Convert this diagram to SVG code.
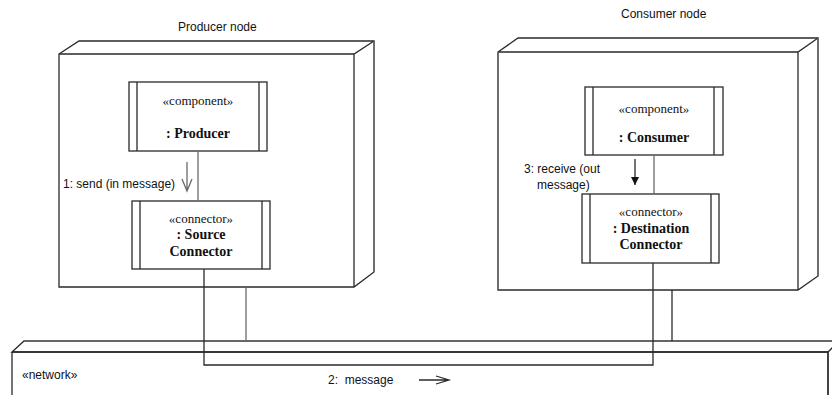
<svg xmlns="http://www.w3.org/2000/svg" width="832" height="395" viewBox="0 0 832 395">
<defs>
<style>
.ln{fill:none;stroke:#2a2a2a;stroke-width:1.3}
.gl{fill:none;stroke:#6a6a6a;stroke-width:1.3}
.box{fill:#fff;stroke:#2a2a2a;stroke-width:1.3}
.sans{font-family:"Liberation Sans","Open Sans",sans-serif;font-size:12px;fill:#111;white-space:pre}
.ser{font-family:"Liberation Serif","Times New Roman",serif;font-size:13px;fill:#111;text-anchor:middle}
.serb{font-family:"Liberation Serif","Times New Roman",serif;font-size:14px;font-weight:bold;fill:#111;text-anchor:middle}
</style>
<marker id="filled" viewBox="0 0 10 10" refX="10" refY="5" markerWidth="8" markerHeight="8" orient="auto" markerUnits="userSpaceOnUse">
<path d="M0,0 L10,5 L0,10 z" fill="#111"/>
</marker>
</defs>
<rect width="832" height="395" fill="#fff"/>

<g id="network">
<path class="box" d="M12,352 L24,341 L834,341 L834,400 L828,400 L828,352 Z"/>
<path class="ln" d="M12,352 L828,352 L834,346 M12,352 L12,400 M828,352 L828,400"/>
<path class="gl" d="M24,341 L834,341"/>
<text class="sans" x="22" y="379">«network»</text>
</g>

<g id="producer-node">
<path class="box" d="M59,54 L79,41 L374,41 L374,272 L354,287 L59,287 Z"/>
<path class="ln" d="M59,54 L354,54 L374,41 M354,54 L354,287"/>
<path class="gl" d="M374,41 L374,272"/>
<text class="sans" x="178" y="31">Producer node</text>
</g>

<g id="consumer-node">
<path class="box" d="M498,52 L518,38 L818,38 L818,276 L798,290 L498,290 Z"/>
<path class="ln" d="M498,52 L798,52 L818,38 M798,52 L798,290"/>
<path class="gl" d="M818,38 L818,276 M498,52 L498,290"/>
<text class="sans" x="621" y="18">Consumer node</text>
</g>

<g id="producer">
<rect class="box" x="129" y="82" width="138" height="69"/>
<path class="ln" d="M137,82 V151 M259,82 V151"/>
<text class="ser" x="198" y="105">«component»</text>
<text class="serb" x="198" y="138">: Producer</text>
</g>

<g id="source-connector">
<rect class="box" x="132" y="201" width="138" height="68"/>
<path class="ln" d="M140,201 V269 M262,201 V269"/>
<text class="ser" x="201" y="223">«connector»</text>
<text class="serb" x="201" y="239">: Source</text>
<text class="serb" x="201" y="256">Connector</text>
</g>

<g id="consumer">
<rect class="box" x="585" y="87" width="138" height="68"/>
<path class="ln" d="M593,87 V155 M714,87 V155"/>
<text class="ser" x="654" y="113">«component»</text>
<text class="serb" x="654" y="142">: Consumer</text>
</g>

<g id="destination-connector">
<rect class="box" x="582" y="194" width="137" height="69"/>
<path class="ln" d="M590,194 V263 M711,194 V263"/>
<text class="ser" x="651" y="216">«connector»</text>
<text class="serb" x="651" y="233">: Destination</text>
<text class="serb" x="651" y="249">Connector</text>
</g>

<g id="connectors">
<path class="gl" d="M198,151 V201"/>
<path class="gl" d="M654,155 V194"/>
<path class="ln" d="M204,269 V365 H653 V263"/>
<path class="gl" d="M246,287 V341"/>
<path class="ln" d="M672,290 V341"/>
<path class="gl" d="M187,162 V191 M182,179 L187,191 L192,179"/>
<text class="sans" x="63" y="188">1: send (in message)</text>
<path class="ln" d="M635,159 V185" marker-end="url(#filled)"/>
<text class="sans" x="524" y="173">3: receive (out</text>
<text class="sans" x="537" y="189">message)</text>
<path class="ln" d="M419,380 H449 M436,376 L449,380 L436,384"/>
<text class="sans" x="328" y="384">2:  message</text>
</g>
</svg>
